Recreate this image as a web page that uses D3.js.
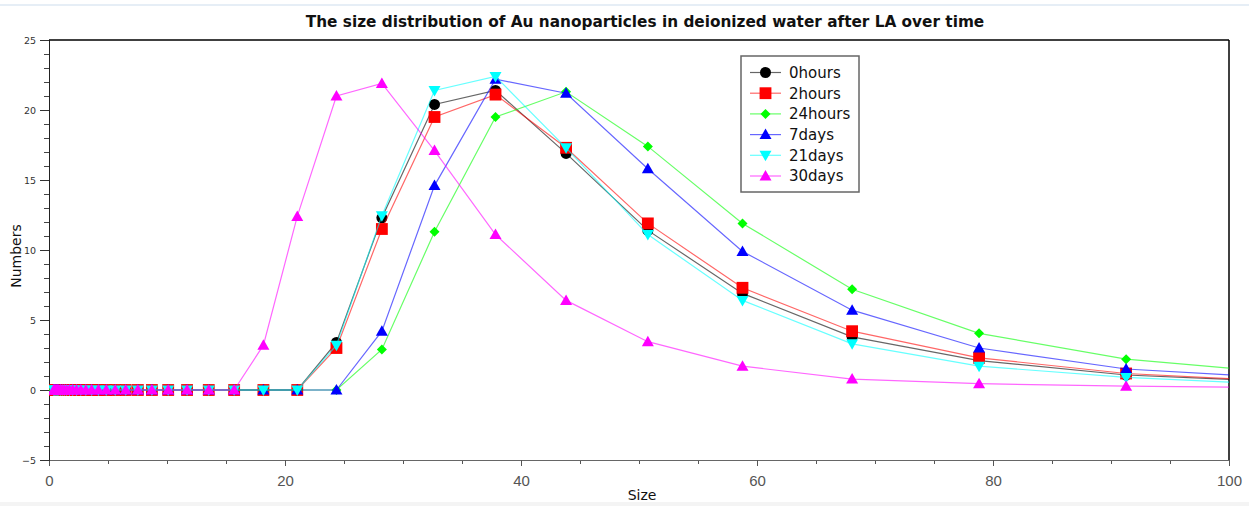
<!DOCTYPE html>
<html>
<head>
<meta charset="utf-8">
<script src="https://cdn.jsdelivr.net/npm/d3@7"></script>
<style>
  body { margin: 0; background: #fff; }
  svg { display: block; }
</style>
</head>
<body>
<div id="chart"></div>
<script>
// size classes (nm) of the particle sizer
const sizes = [0.4, 0.4632, 0.5365, 0.6213, 0.7195, 0.8332, 0.9649, 1.117, 1.294, 1.499,
  1.736, 2.01, 2.328, 2.696, 3.122, 3.615, 4.187, 4.849, 5.615, 6.503,
  7.531, 8.721, 10.1, 11.7, 13.54, 15.69, 18.17, 21.04, 24.36, 28.21,
  32.67, 37.84, 43.82, 50.75, 58.77, 68.06, 78.82, 91.28, 105.7];

const hours0 = [0, 0, 0, 0, 0, 0, 0, 0, 0, 0, 0, 0, 0, 0, 0, 0, 0, 0, 0, 0,
  0, 0, 0, 0, 0, 0, 0, 0, 3.4, 12.3, 20.4, 21.4, 16.9, 11.4, 6.9, 3.8, 2.1, 1.07, 0.55];
const hours2 = [0, 0, 0, 0, 0, 0, 0, 0, 0, 0, 0, 0, 0, 0, 0, 0, 0, 0, 0, 0,
  0, 0, 0, 0, 0, 0, 0, 0, 3.0, 11.5, 19.5, 21.1, 17.3, 11.9, 7.3, 4.2, 2.3, 1.18, 0.58];
const hours24 = [0, 0, 0, 0, 0, 0, 0, 0, 0, 0, 0, 0, 0, 0, 0, 0, 0, 0, 0, 0,
  0, 0, 0, 0, 0, 0, 0, 0, 0, 2.9, 11.3, 19.5, 21.3, 17.4, 11.9, 7.2, 4.05, 2.2, 1.15];
const days7 = [0, 0, 0, 0, 0, 0, 0, 0, 0, 0, 0, 0, 0, 0, 0, 0, 0, 0, 0, 0,
  0, 0, 0, 0, 0, 0, 0, 0, 0, 4.2, 14.6, 22.2, 21.2, 15.8, 9.9, 5.7, 3.0, 1.5, 0.8];
const days21 = [0, 0, 0, 0, 0, 0, 0, 0, 0, 0, 0, 0, 0, 0, 0, 0, 0, 0, 0, 0,
  0, 0, 0, 0, 0, 0, 0, 0, 3.2, 12.45, 21.4, 22.4, 17.3, 11.1, 6.4, 3.3, 1.7, 0.9, 0.35];
const days30 = [0, 0, 0, 0, 0, 0, 0, 0, 0, 0, 0, 0, 0, 0, 0, 0, 0, 0, 0, 0,
  0, 0, 0, 0, 0, 0, 3.2, 12.4, 21.0, 21.9, 17.1, 11.1, 6.4, 3.45, 1.7, 0.78, 0.45, 0.27, 0.17];

const seriesNames = ['0hours', '2hours', '24hours', '7days', '21days', '30days'];
const seriesValues = [hours0, hours2, hours24, days7, days21, days30];
const seriesColors = ['#000000', '#ff0000', '#00ff00', '#0000ff', '#00ffff', '#ff00ff'];
const seriesSymbols = ['circle', 'square', 'diamond', 'triangle', 'triangleDown', 'triangle'];

const xTicks = [0, 20, 40, 60, 80, 100];
const yTicks = [-5, 0, 5, 10, 15, 20, 25];

const titleText = 'The size distribution of Au nanoparticles in deionized water after LA over time';
const xLabel = 'Size';
const yLabel = 'Numbers';

const width = 1249;
const height = 506;
const margin = {top: 40, right: 20, bottom: 46, left: 49};
const plotW = width - margin.left - margin.right;
const plotH = height - margin.top - margin.bottom;
const fontFamily = '"DejaVu Sans", sans-serif';

const xScale = d3.scaleLinear().domain([0, 100]).range([0, plotW]);
const yScale = d3.scaleLinear().domain([-5, 25]).range([plotH, 0]);

function markerPath(kind) {
  if (kind === 'circle') return d3.symbol(d3.symbolCircle, 95)();
  if (kind === 'square') return d3.symbol(d3.symbolSquare, 140)();
  if (kind === 'diamond') return 'M0,-5L5,0L0,5L-5,0Z';
  if (kind === 'triangle') return 'M0,-6L6,4.5L-6,4.5Z';
  return 'M0,6L6,-4.5L-6,-4.5Z';
}

const svg = d3.select('#chart')
  .append('svg')
  .attr('width', width)
  .attr('height', height);

// faint frame lines of the original screenshot
svg.append('line')
  .attr('x1', 0).attr('x2', width).attr('y1', 5).attr('y2', 5)
  .attr('stroke', '#e6eef6').attr('stroke-width', 2);
svg.append('rect')
  .attr('x', 0).attr('y', 502).attr('width', width).attr('height', 4)
  .attr('fill', '#f4f4f4');

svg.append('text')
  .attr('x', 645)
  .attr('y', 27)
  .attr('text-anchor', 'middle')
  .style('font-family', fontFamily)
  .style('font-weight', 'bold')
  .style('font-size', '15.3px')
  .attr('fill', '#111')
  .text(titleText);

svg.append('defs')
  .append('clipPath')
  .attr('id', 'plot-clip')
  .append('rect')
  .attr('width', plotW)
  .attr('height', plotH);

const g = svg.append('g')
  .attr('transform', `translate(${margin.left},${margin.top})`);

// minor ticks
g.append('g')
  .attr('transform', `translate(0,${plotH})`)
  .call(d3.axisBottom(xScale).tickValues(d3.range(0, 101, 5)).tickSize(4).tickFormat(''))
  .call(a => a.select('.domain').remove())
  .selectAll('line').attr('stroke', '#555');
g.append('g')
  .call(d3.axisLeft(yScale).tickValues(d3.range(-5, 26, 1)).tickSize(5).tickFormat(''))
  .call(a => a.select('.domain').remove())
  .selectAll('line').attr('stroke', '#444');

const xAxis = g.append('g')
  .attr('transform', `translate(0,${plotH})`)
  .call(d3.axisBottom(xScale).tickValues(xTicks).tickSize(6).tickPadding(9));
xAxis.select('.domain').attr('stroke', '#666');
xAxis.selectAll('line').attr('stroke', '#555');
xAxis.selectAll('text')
  .attr('fill', '#555')
  .style('font-family', '"Liberation Sans", sans-serif')
  .style('font-size', '15px');

const yAxis = g.append('g')
  .call(d3.axisLeft(yScale).tickValues(yTicks).tickSize(9).tickPadding(4));
yAxis.select('.domain').attr('stroke', '#222');
yAxis.selectAll('line').attr('stroke', '#333');
yAxis.selectAll('text')
  .attr('fill', '#333')
  .style('font-family', fontFamily)
  .style('font-size', '9.5px');

// top and right frame
g.append('line')
  .attr('x1', 0).attr('x2', plotW).attr('y1', 0).attr('y2', 0)
  .attr('stroke', '#000').attr('stroke-width', 1.5);
g.append('line')
  .attr('x1', plotW).attr('x2', plotW).attr('y1', 0).attr('y2', plotH)
  .attr('stroke', '#000').attr('stroke-width', 1.5);

svg.append('text')
  .attr('x', 642)
  .attr('y', 500)
  .attr('text-anchor', 'middle')
  .style('font-family', fontFamily)
  .style('font-size', '14px')
  .attr('fill', '#111')
  .text(xLabel);

svg.append('text')
  .attr('transform', 'translate(21,256) rotate(-90)')
  .attr('text-anchor', 'middle')
  .style('font-family', fontFamily)
  .style('font-size', '14px')
  .attr('fill', '#111')
  .text(yLabel);

const line = d3.line()
  .x((d, i) => xScale(sizes[i]))
  .y(d => yScale(d));

const plot = g.append('g').attr('clip-path', 'url(#plot-clip)');

seriesValues.forEach((values, k) => {
  const sg = plot.append('g').attr('class', 'series');
  sg.append('path')
    .datum(values)
    .attr('fill', 'none')
    .attr('stroke', seriesColors[k])
    .attr('stroke-opacity', 0.6)
    .attr('stroke-width', 1.2)
    .attr('d', line);
  sg.selectAll('path.marker')
    .data(values)
    .join('path')
    .attr('class', 'marker')
    .attr('transform', (d, i) => `translate(${xScale(sizes[i])},${yScale(d)})`)
    .attr('d', markerPath(seriesSymbols[k]))
    .attr('fill', seriesColors[k]);
});

// legend
const legend = svg.append('g').attr('transform', 'translate(741,56)');
legend.append('rect')
  .attr('width', 118)
  .attr('height', 136)
  .attr('fill', '#fff')
  .attr('stroke', '#666')
  .attr('stroke-width', 1.5);

seriesNames.forEach((name, k) => {
  const row = legend.append('g')
    .attr('transform', `translate(0,${16.5 + k * 20.7})`);
  row.append('line')
    .attr('x1', 9).attr('x2', 40)
    .attr('stroke', seriesColors[k])
    .attr('stroke-opacity', 0.6)
    .attr('stroke-width', 1.2);
  row.append('path')
    .attr('transform', 'translate(24.5,0)')
    .attr('d', markerPath(seriesSymbols[k]))
    .attr('fill', seriesColors[k]);
  row.append('text')
    .attr('x', 48)
    .attr('dy', '0.36em')
    .style('font-family', fontFamily)
    .style('font-size', '15px')
    .attr('fill', '#111')
    .text(name);
});
</script>
</body>
</html>
